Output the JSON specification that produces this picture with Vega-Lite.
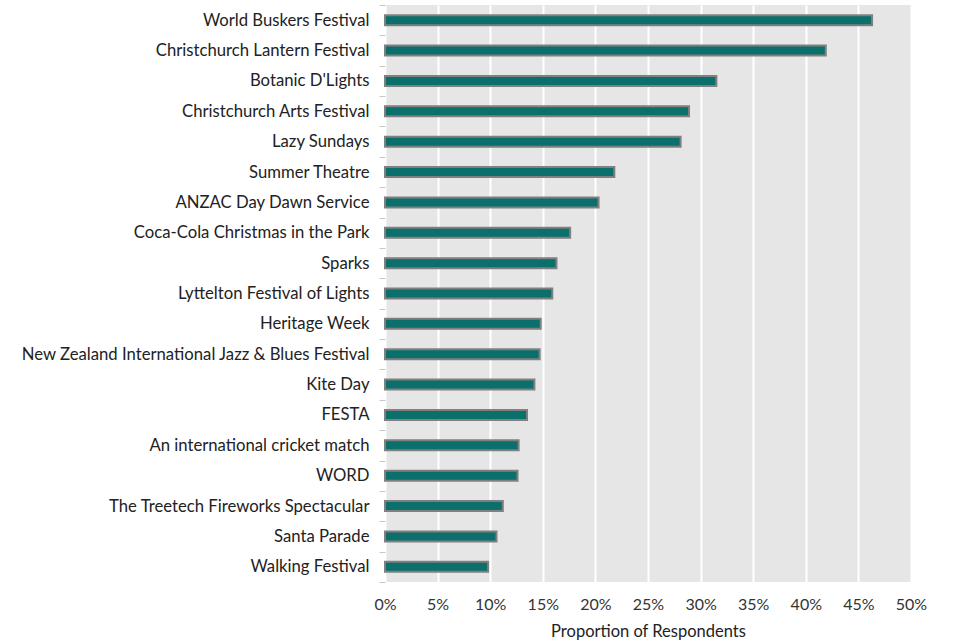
{
  "$schema": "https://vega.github.io/schema/vega-lite/v6.json",
  "autosize": "none",
  "width": 526,
  "height": 577,
  "padding": {"left": 385, "top": 5, "right": 42, "bottom": 62},
  "background": "white",
  "config": {
    "view": {"fill": "#e6e6e6", "stroke": null},
    "font": "Lato"
  },
  "data": {
    "values": [
      {"event": "World Buskers Festival", "value": 0.463},
      {"event": "Christchurch Lantern Festival", "value": 0.419},
      {"event": "Botanic D'Lights", "value": 0.315},
      {"event": "Christchurch Arts Festival", "value": 0.289},
      {"event": "Lazy Sundays", "value": 0.281},
      {"event": "Summer Theatre", "value": 0.218},
      {"event": "ANZAC Day Dawn Service", "value": 0.203},
      {"event": "Coca-Cola Christmas in the Park", "value": 0.176},
      {"event": "Sparks", "value": 0.163},
      {"event": "Lyttelton Festival of Lights", "value": 0.159},
      {"event": "Heritage Week", "value": 0.148},
      {"event": "New Zealand International Jazz & Blues Festival", "value": 0.147},
      {"event": "Kite Day", "value": 0.142},
      {"event": "FESTA", "value": 0.135},
      {"event": "An international cricket match", "value": 0.127},
      {"event": "WORD", "value": 0.126},
      {"event": "The Treetech Fireworks Spectacular", "value": 0.112},
      {"event": "Santa Parade", "value": 0.106},
      {"event": "Walking Festival", "value": 0.098}
    ]
  },
  "mark": {"type": "bar", "fill": "#0b706b", "stroke": "#808080", "strokeWidth": 2, "height": 10},
  "encoding": {
    "y": {
      "field": "event", "type": "nominal", "sort": null,
      "scale": {"paddingInner": 0, "paddingOuter": 0},
      "axis": {
        "title": null, "domain": false, "tickBand": "extent",
        "tickColor": "#c8c8c8", "tickSize": 6, "labelPadding": 10,
        "labelFontSize": 16.7, "labelColor": "#222222", "labelLimit": 400
      }
    },
    "x": {
      "field": "value", "type": "quantitative",
      "scale": {"domain": [0, 0.5], "nice": false},
      "axis": {
        "title": "Proportion of Respondents", "format": ".0%",
        "values": [0, 0.05, 0.1, 0.15, 0.2, 0.25, 0.3, 0.35, 0.4, 0.45, 0.5],
        "domain": false, "ticks": false, "grid": true, "labelFlush": false,
        "gridColor": "white", "gridWidth": 2,
        "labelFontSize": 16, "labelColor": "#333333", "labelPadding": 14,
        "titleFontSize": 16.5, "titleFontWeight": "normal", "titleColor": "#222222",
        "titlePadding": 11
      }
    }
  }
}
